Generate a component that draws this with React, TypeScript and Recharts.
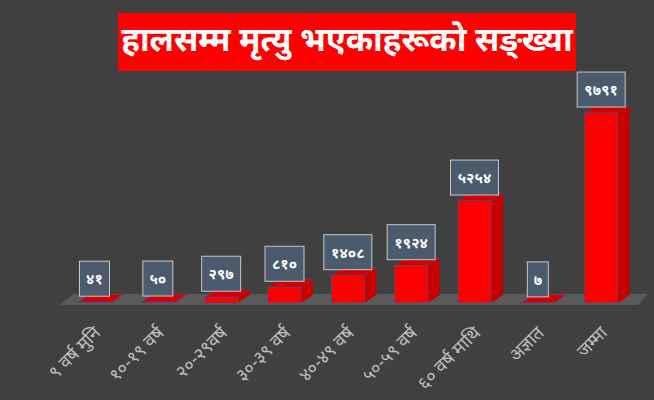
import { BarChart, Bar, XAxis, YAxis, LabelList, ReferenceArea } from 'recharts'

const categories = ['९ वर्ष मुनि', '१०-१९ वर्ष', '२०-२९वर्ष', '३०-३९ वर्ष', '४०-४९ वर्ष', '५०-५९ वर्ष', '६० वर्ष माथि', 'अज्ञात', 'जम्मा']
const deaths = [41, 50, 297, 810, 1408, 1924, 5254, 7, 9791]

const data = categories.map((c, i) => ({ name: c, deaths: deaths[i] }))

const DEV = '०१२३४५६७८९'
const toNepali = (n: number) => String(n).replace(/\d/g, d => DEV[+d])

const font = '"Noto Sans Devanagari", "Noto Sans", "Lohit Devanagari", sans-serif'
const DX = 12
const DY = 8

function Bar3D(props: any) {
  const { x, y, width, height } = props
  const b = y + height
  return (
    <g>
      <polygon points={`${x + width},${y} ${x + width + DX},${y - DY} ${x + width + DX},${b - DY} ${x + width},${b}`} fill="#c80000" />
      <polygon points={`${x},${y} ${x + DX},${y - DY} ${x + width + DX},${y - DY} ${x + width},${y}`} fill="#d40000" stroke="#3a5a9a" strokeWidth={0.5} />
      <rect x={x} y={y} width={width} height={Math.max(height, 0.5)} fill="#ff0000" stroke="#3a5a9a" strokeWidth={0.6} />
    </g>
  )
}

function Floor(props: any) {
  const { x, width, y, height } = props
  const b = y + height
  return (
    <polygon points={`${x - 3},${b + 2} ${x + 10},${b - 9} ${x + width + 15},${b - 9} ${x + width + 5},${b + 2}`} fill="#5a5a5a" />
  )
}

function ValueBox(props: any) {
  const { x, y, width, value } = props
  const txt = toNepali(value)
  const w = 12 + txt.length * 9
  const cx = x + width / 2
  return (
    <g>
      <rect x={cx - w / 2} y={y - 41} width={w} height={35} fill="#4b5a6c" stroke="#c8c8c8" strokeWidth={1} />
      <text x={cx} y={y - 18} textAnchor="middle" fill="#fff" fontSize={15} fontWeight="bold" fontFamily={font}>{txt}</text>
    </g>
  )
}

export default function App() {
  return (
    <div style={{ position: 'fixed', left: 0, top: 0, width: 654, height: 400, background: '#404040' }}>
      <div style={{ position: 'absolute', left: 118, top: 13, width: 458, height: 58, background: '#ff0000', color: '#fff', fontFamily: font, fontWeight: 'bold', fontSize: 33, display: 'flex', alignItems: 'center', justifyContent: 'center', whiteSpace: 'nowrap' }}>
        हालसम्म मृत्यु भएकाहरूको सङ्ख्या
      </div>
      <BarChart width={654} height={400} data={data} margin={{ top: 109, right: 21, left: 63, bottom: 0 }}>
        <XAxis dataKey="name" axisLine={false} tickLine={false} interval={0} height={97}
          angle={-45} textAnchor="end" dx={-2} dy={14}
          tick={{ fill: '#bfbfbf', fontSize: 18, fontFamily: font }} />
        <YAxis hide domain={[0, 10000]} />
        <ReferenceArea y1={0} y2={100} fill="none" shape={<Floor />} ifOverflow="visible" />
        <Bar dataKey="deaths" barSize={33} shape={<Bar3D />} isAnimationActive={false}>
          <LabelList dataKey="deaths" content={<ValueBox />} />
        </Bar>
      </BarChart>
    </div>
  )
}
